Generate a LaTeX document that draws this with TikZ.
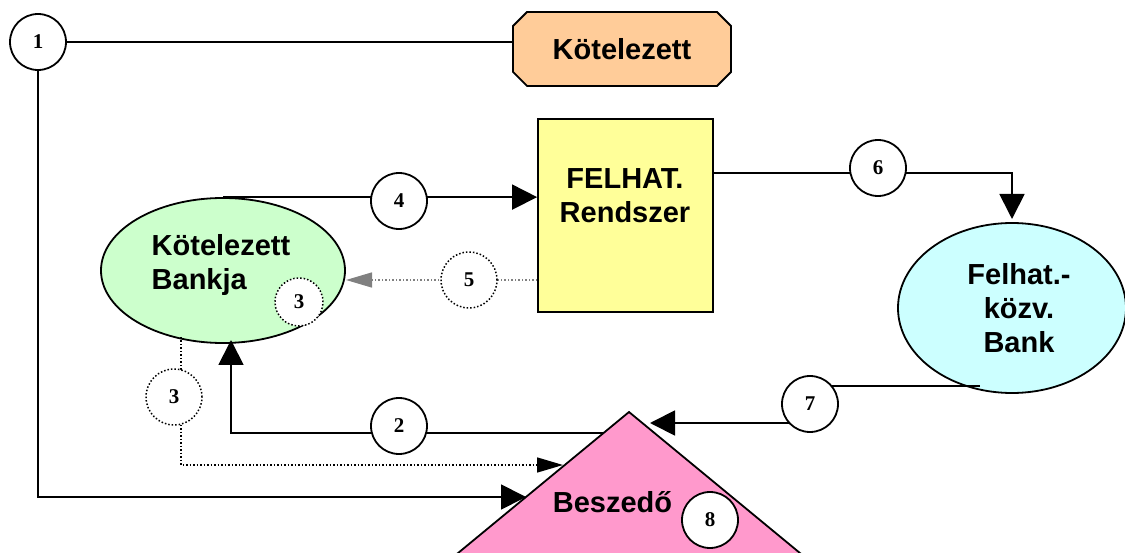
\documentclass[tikz,border=0pt]{standalone}
\usepackage{fontspec}
\setmainfont{Liberation Sans}
\newfontfamily\numfont{Liberation Serif}
\usetikzlibrary{arrows.meta,shapes.misc,shapes.geometric}
\definecolor{peach}{HTML}{FFCC99}
\definecolor{lyellow}{HTML}{FFFF99}
\definecolor{lgreen}{HTML}{CCFFCC}
\definecolor{lcyan}{HTML}{CCFFFF}
\definecolor{lpink}{HTML}{FF99CC}
\definecolor{arrgray}{HTML}{808080}
\begin{document}
\begin{tikzpicture}[x=1pt,y=-1pt,line width=1.8pt,
  lbl/.style={font=\fontsize{29}{34}\selectfont\bfseries},
  num/.style={circle,draw,fill=white,minimum size=56pt,inner sep=0pt,
    font=\fontsize{21}{21}\selectfont\numfont\bfseries},
  dnum/.style={num,dotted,line width=1.5pt},
  snum/.style={dnum,minimum size=48pt},
  arr/.style={-{Triangle[length=25pt,width=25pt]}},
  narr/.style={-{Triangle[length=26pt,width=15pt]}},
  dline/.style={dotted,line width=1.5pt}]
\useasboundingbox (0,0) rectangle (1125,553);
\clip (0,0) rectangle (1125,553);
% shapes
\node[chamfered rectangle,chamfered rectangle xsep=22pt,draw,fill=peach,
  minimum width=218pt,minimum height=74pt,inner sep=0pt,lbl,
  text height=21pt,text depth=0pt] (kot) at (622,49) {Kötelezett};
\node[draw,fill=lyellow,minimum width=175pt,minimum height=193pt] (fel) at (625.5,215.5) {};
\node[lbl,align=center] (felt) at (625,196) {FELHAT.\\Rendszer};
\node[ellipse,draw,fill=lgreen,minimum width=244pt,minimum height=145pt,inner sep=0pt] (kb) at (223,270.5) {};
\node[lbl,align=left] (kbt) at (221,265) {Kötelezett\\Bankja};
\node[ellipse,draw,fill=lcyan,minimum width=228pt,minimum height=170pt,inner sep=0pt] (fb) at (1012,308) {};
\node[lbl,align=center] (fbt) at (1019,308) {Felhat.-\\közv.\\Bank};
\coordinate (apex) at (629,412);
\coordinate (bl) at (429,577);
\coordinate (br) at (829,577);
\fill[lpink] (apex) -- (br) -- (bl) -- cycle;
\draw (bl) -- (apex) -- (br);
\node[lbl,anchor=base] (bsz) at (612.5,512) {Beszedő};
% connector coordinates
\coordinate (t1) at (526,497);
\coordinate (t3) at (563,465);
\coordinate (s3) at (181,337);
\coordinate (s2) at (603,433);
\coordinate (t2) at (231,340);
\coordinate (s7) at (980,386);
\coordinate (t7) at (650,423);
\coordinate (t6) at (1012,219);
\coordinate (c1) at (38,42);
\coordinate (c2) at (399,426);
\coordinate (c3a) at (299,302);
\coordinate (c3b) at (174,397);
\coordinate (c4) at (399,201);
\coordinate (c5) at (469,280);
\coordinate (c6) at (878,168);
\coordinate (c7) at (810,404);
\coordinate (c8) at (710,520);
% connectors
\draw (c1) -- (c1 -| kot.west);
\draw[arr] (c1) |- (t1);
\draw[arr] (kb.north) -- (kb.north -| fel.west);
\draw[dline,arrgray,narr] (c5 -| fel.west) -- (346,280);
\draw[dline,narr] (s3) -- (s3 |- t3) -- (t3);
\draw[arr] (s2) -- (s2 -| t2) -- (t2);
\draw[arr] (fel.east |- 0,173) -| (t6);
\draw[arr] (s7) -- (s7 -| c7) -- (c7 |- t7) -- (t7);
% numbered circles
\node[num] (n1) at (c1) {1};
\node[num] (n2) at (c2) {2};
\node[snum] (n3a) at (c3a) {3};
\node[dnum] (n3b) at (c3b) {3};
\node[num] (n4) at (c4) {4};
\node[dnum] (n5) at (c5) {5};
\node[num] (n6) at (c6) {6};
\node[num] (n7) at (c7) {7};
\node[num] (n8) at (c8) {8};
\end{tikzpicture}
\end{document}
